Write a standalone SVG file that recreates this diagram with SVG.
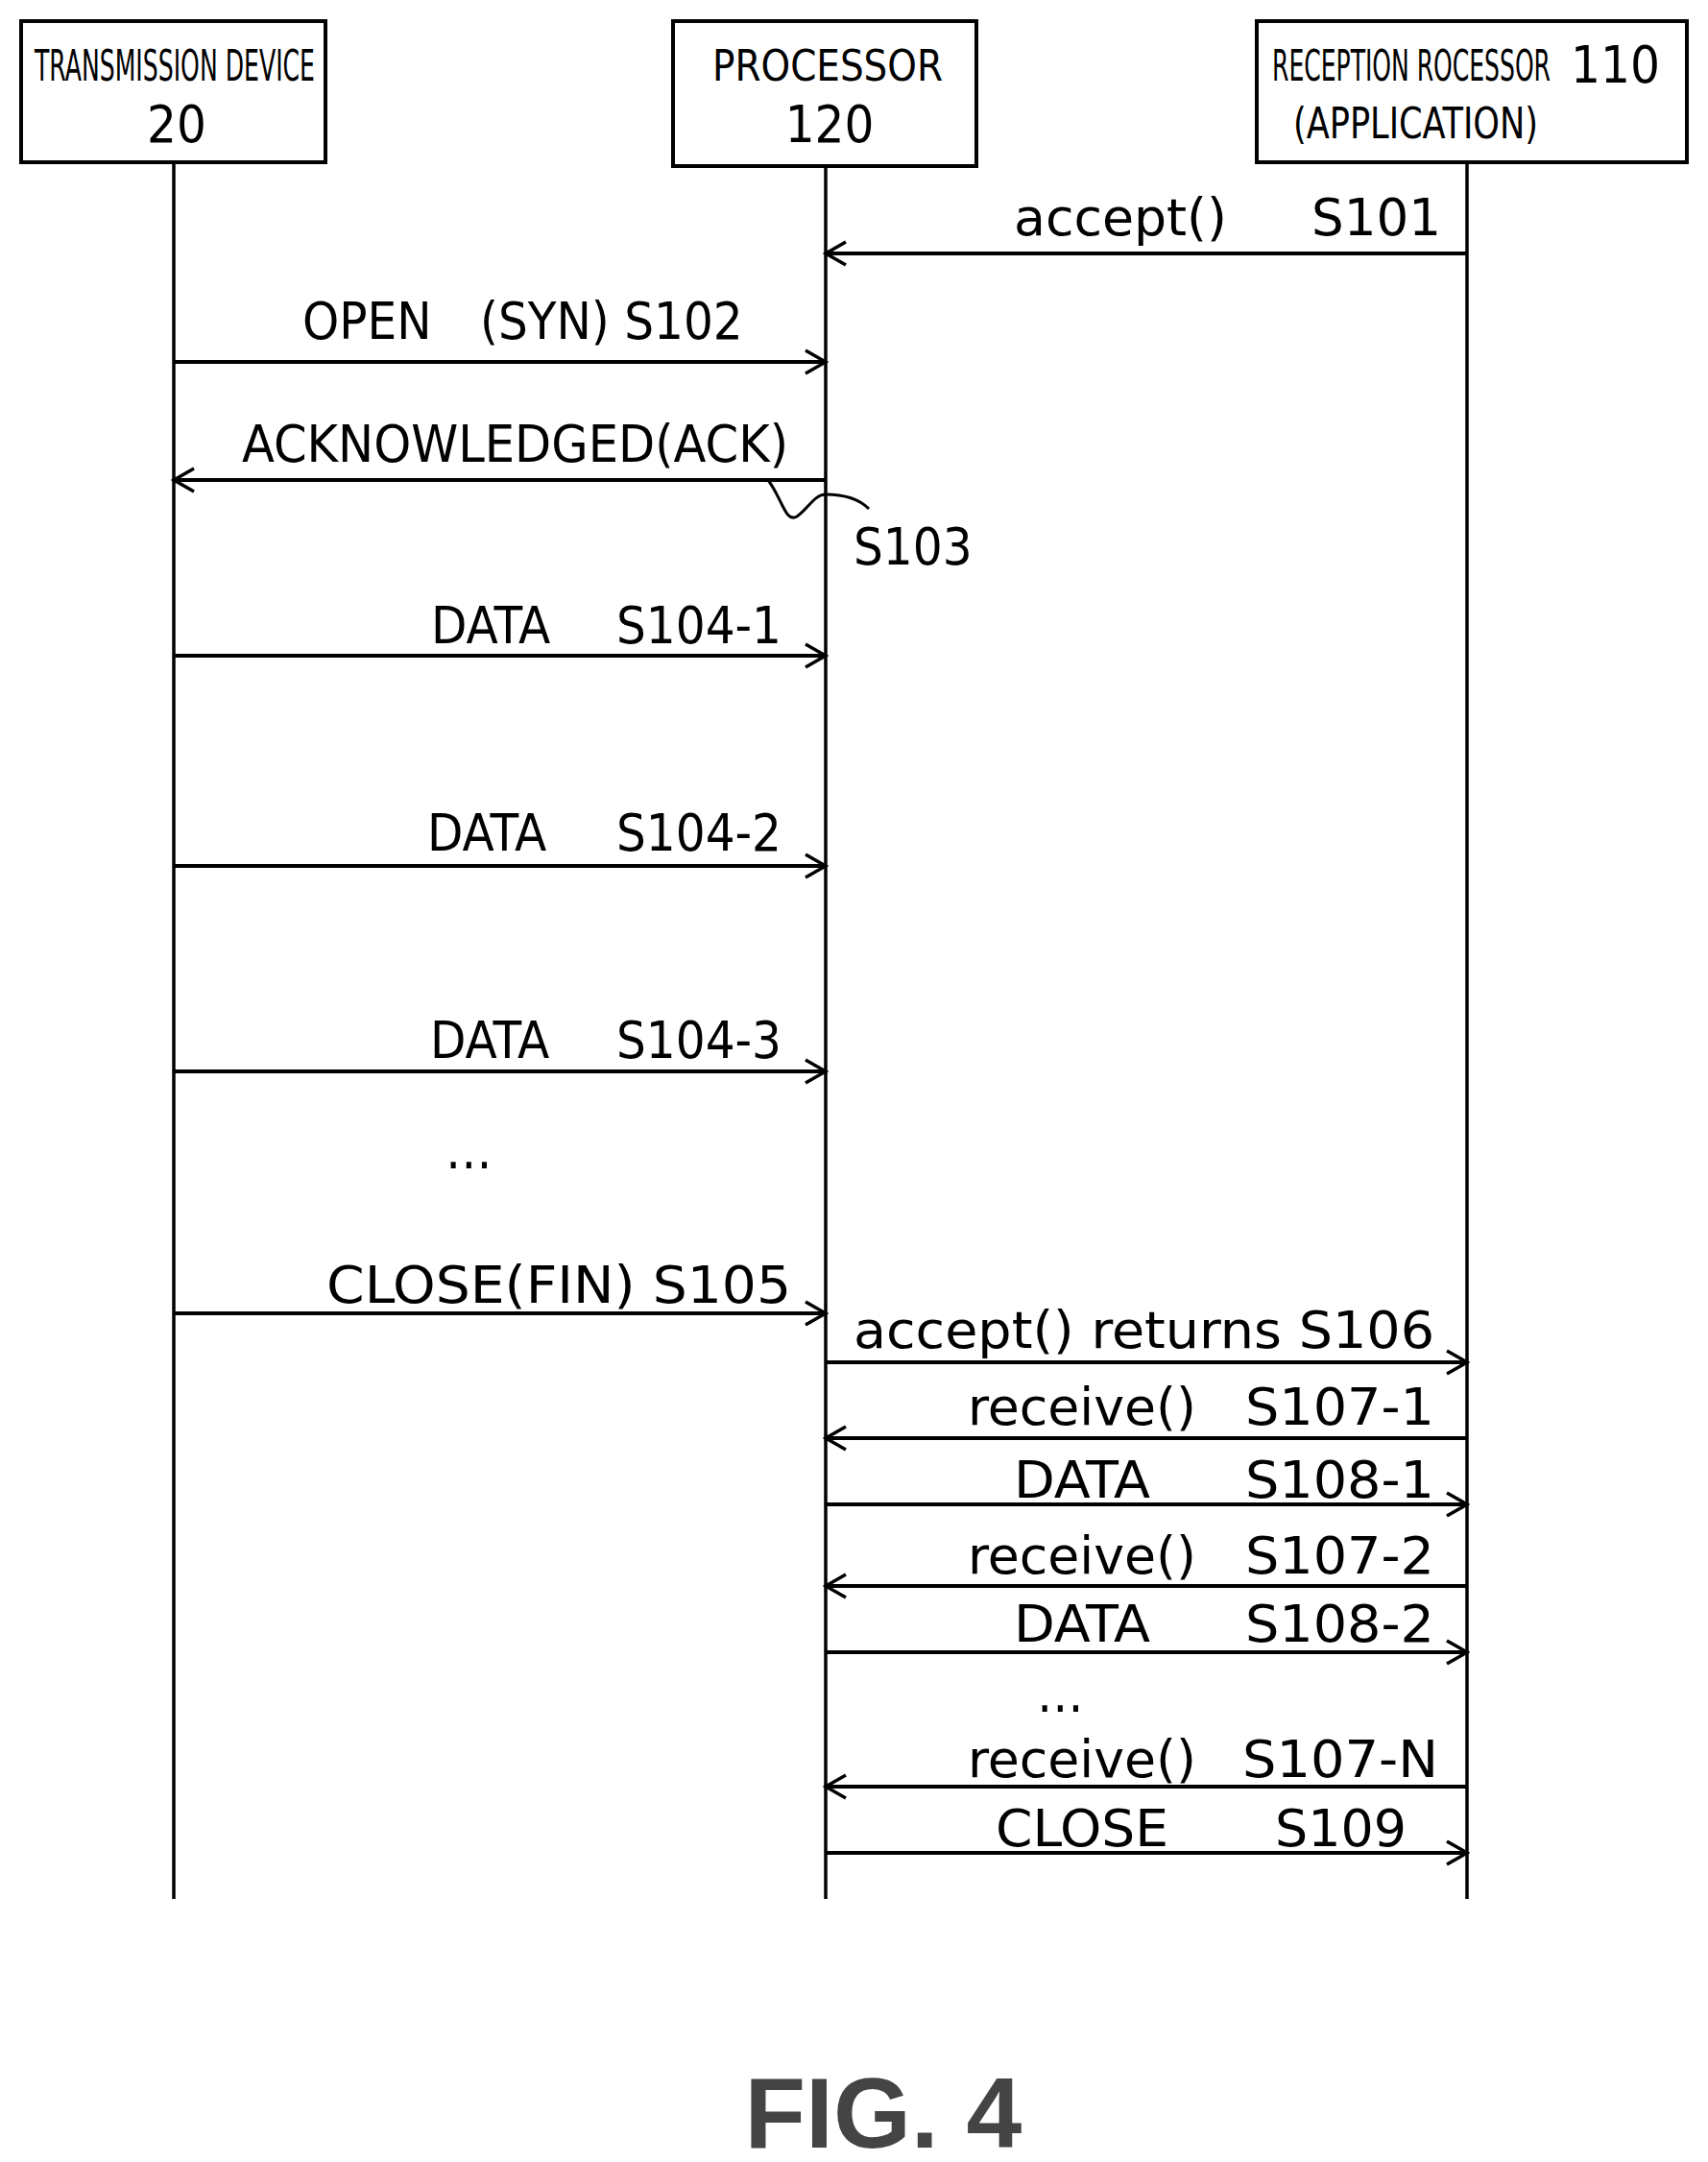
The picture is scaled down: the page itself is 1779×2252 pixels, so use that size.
<svg xmlns="http://www.w3.org/2000/svg" width="1779" height="2252" viewBox="0 0 1779 2252">
<style>
text{font-family:"DejaVu Sans Condensed","DejaVu Sans",sans-serif;fill:#000}
.l{font-size:54px}
.b{font-size:44px}
.box{fill:#fff;stroke:#000;stroke-width:4}
.life{stroke:#000;stroke-width:3.5;fill:none}
.msg{stroke:#000;stroke-width:4;fill:none;marker-end:url(#ah)}
</style>
<defs>
<marker id="ah" viewBox="0 0 30 30" refX="27" refY="15" markerWidth="30" markerHeight="30" markerUnits="userSpaceOnUse" orient="auto">
<polyline points="6,3 27,15 6,27" fill="none" stroke="#000" stroke-width="3.5"/>
</marker>
</defs>
<rect width="1779" height="2252" fill="#fff"/>
<g id="node-transmission">
<rect class="box" x="22" y="22" width="317" height="147"/>
<text class="b" x="36" y="84" textLength="292" lengthAdjust="spacingAndGlyphs">TRANSMISSION DEVICE</text>
<text class="l" x="184" y="148" text-anchor="middle">20</text>
</g>
<g id="node-processor">
<rect class="box" x="701" y="22" width="316" height="151"/>
<text class="b" x="742" y="84" textLength="240" lengthAdjust="spacingAndGlyphs">PROCESSOR</text>
<text class="l" x="864" y="148" text-anchor="middle">120</text>
</g>
<g id="node-reception">
<rect class="box" x="1309" y="22" width="448" height="147"/>
<text class="b" x="1325" y="84" textLength="290" lengthAdjust="spacingAndGlyphs">RECEPTION ROCESSOR</text>
<text class="l" x="1636" y="86" textLength="93" lengthAdjust="spacingAndGlyphs">110</text>
<text class="b" x="1347" y="144" textLength="255" lengthAdjust="spacingAndGlyphs">(APPLICATION)</text>
</g>
<g id="connectors">
<line class="life" x1="181" y1="169" x2="181" y2="1978"/>
<line class="life" x1="860" y1="173" x2="860" y2="1978"/>
<line class="life" x1="1528" y1="169" x2="1528" y2="1978"/>
<line class="msg" x1="1528" y1="264" x2="860" y2="264"/>
<line class="msg" x1="181" y1="377" x2="860" y2="377"/>
<line class="msg" x1="860" y1="500" x2="181" y2="500"/>
<path d="M800,500 C815,520 818,545 830,538 C842,530 848,515 860,515 C880,515 895,520 905,530" fill="none" stroke="#000" stroke-width="3"/>
<line class="msg" x1="181" y1="683" x2="860" y2="683"/>
<line class="msg" x1="181" y1="902" x2="860" y2="902"/>
<line class="msg" x1="181" y1="1116" x2="860" y2="1116"/>
<line class="msg" x1="181" y1="1368" x2="860" y2="1368"/>
<line class="msg" x1="860" y1="1419" x2="1528" y2="1419"/>
<line class="msg" x1="1528" y1="1498" x2="860" y2="1498"/>
<line class="msg" x1="860" y1="1567" x2="1528" y2="1567"/>
<line class="msg" x1="1528" y1="1652" x2="860" y2="1652"/>
<line class="msg" x1="860" y1="1721" x2="1528" y2="1721"/>
<line class="msg" x1="1528" y1="1861" x2="860" y2="1861"/>
<line class="msg" x1="860" y1="1930" x2="1528" y2="1930"/>
</g>
<g id="labels">
<text class="l" x="1056" y="245" textLength="222" lengthAdjust="spacingAndGlyphs">accept()</text>
<text class="l" x="1366" y="245" textLength="135" lengthAdjust="spacingAndGlyphs">S101</text>
<text class="l" x="315" y="353">OPEN</text>
<text class="l" x="500" y="353">(SYN) S102</text>
<text class="l" x="252" y="481" textLength="569" lengthAdjust="spacingAndGlyphs">ACKNOWLEDGED(ACK)</text>
<text class="l" x="889" y="588">S103</text>
<text class="l" x="449" y="670">DATA</text><text class="l" x="814" y="670" text-anchor="end">S104-1</text>
<text class="l" x="445" y="886">DATA</text><text class="l" x="814" y="886" text-anchor="end">S104-2</text>
<text class="l" x="448" y="1102">DATA</text><text class="l" x="814" y="1102" text-anchor="end">S104-3</text>
<text class="l" x="464" y="1217">…</text>
<text class="l" x="340" y="1357" textLength="484" lengthAdjust="spacingAndGlyphs">CLOSE(FIN) S105</text>
<text class="l" x="889" y="1404" textLength="605" lengthAdjust="spacingAndGlyphs">accept() returns S106</text>
<text class="l" x="1008" y="1484" textLength="238" lengthAdjust="spacingAndGlyphs">receive()</text>
<text class="l" x="1297" y="1484" textLength="197" lengthAdjust="spacingAndGlyphs">S107-1</text>
<text class="l" x="1056" y="1560" textLength="142" lengthAdjust="spacingAndGlyphs">DATA</text>
<text class="l" x="1297" y="1560" textLength="197" lengthAdjust="spacingAndGlyphs">S108-1</text>
<text class="l" x="1008" y="1639" textLength="238" lengthAdjust="spacingAndGlyphs">receive()</text>
<text class="l" x="1297" y="1639" textLength="197" lengthAdjust="spacingAndGlyphs">S107-2</text>
<text class="l" x="1056" y="1710" textLength="142" lengthAdjust="spacingAndGlyphs">DATA</text>
<text class="l" x="1297" y="1710" textLength="197" lengthAdjust="spacingAndGlyphs">S108-2</text>
<text class="l" x="1080" y="1783">…</text>
<text class="l" x="1008" y="1851" textLength="238" lengthAdjust="spacingAndGlyphs">receive()</text>
<text class="l" x="1294" y="1851" textLength="204" lengthAdjust="spacingAndGlyphs">S107-N</text>
<text class="l" x="1037" y="1923" textLength="180" lengthAdjust="spacingAndGlyphs">CLOSE</text>
<text class="l" x="1328" y="1923" textLength="137" lengthAdjust="spacingAndGlyphs">S109</text>
<text x="920" y="2237" text-anchor="middle" style="font-family:'Liberation Sans',Arial,sans-serif;font-weight:bold;font-size:104px;fill:#444">FIG.  4</text>
</g>
</svg>
